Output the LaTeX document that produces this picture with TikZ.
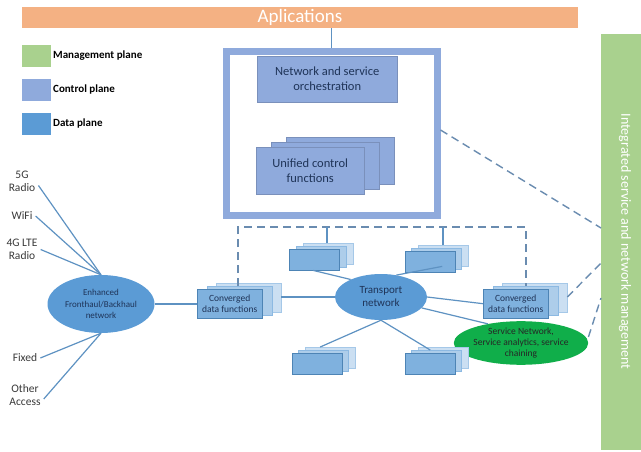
\documentclass[tikz,border=0pt]{standalone}
\usepackage{fontspec}
\setmainfont{Carlito}
\usetikzlibrary{shapes.geometric}
\definecolor{appc}{HTML}{F4B183}
\definecolor{mgmt}{HTML}{A9D18E}
\definecolor{ctrl}{HTML}{8FAADC}
\definecolor{datac}{HTML}{5B9BD5}
\definecolor{linec}{HTML}{5E92C2}
\definecolor{dashc}{HTML}{6A8CB0}
\definecolor{navy}{HTML}{1F3458}
\definecolor{svc}{HTML}{10AE4A}
\definecolor{labc}{HTML}{3A3A3A}
\tikzset{
  conn/.style={draw=linec, line width=1.2pt},
  dsh/.style={draw=dashc, line width=1.4pt, dash pattern=on 8pt off 5pt},
  ctrlbox/.style={draw=ctrl!85!black, line width=0.4pt, fill=ctrl, inner sep=0, text=navy, align=center, anchor=north west},
  dfront/.style={draw=datac!85!black, line width=0.4pt, fill=datac!78, inner sep=0, text=navy, align=center, anchor=north west},
  dmid/.style={draw=datac!70, line width=0.4pt, fill=datac!50, inner sep=0, anchor=north west},
  dback/.style={draw=datac!55, line width=0.4pt, fill=datac!32, inner sep=0, anchor=north west},
  legsq/.style={minimum width=29, minimum height=22, inner sep=0, anchor=north west},
  legtxt/.style={font=\bfseries\fontsize{11}{12}\selectfont, anchor=west, inner sep=0},
  acclbl/.style={font=\fontsize{11.5}{13.5}\selectfont, align=center, text=labc, inner sep=1pt},
}
\begin{document}
\begin{tikzpicture}[x=1pt,y=-1pt]
\useasboundingbox (0,0) rectangle (641,452);
\fill[white] (0,0) rectangle (641,452);

% applications bar
\node[fill=appc, minimum width=556, minimum height=21, inner sep=0, text=white,
  font=\fontsize{19}{20}\selectfont] (app) at (300,17.5) {Aplications};

% management bar
\node[fill=mgmt, minimum width=40, minimum height=416, inner sep=0, anchor=north west] (mg) at (601,34) {};
\node[rotate=-90, text=white, font=\fontsize{14}{15}\selectfont, inner sep=0] (mgt) at (625,241.5)
  {Integrated service and network management};

% legend
\node[legsq, fill=mgmt] (l1) at (22,45) {};
\node[legsq, fill=ctrl] (l2) at (22,79) {};
\node[legsq, fill=datac] (l3) at (22,113) {};
\node[legtxt] (t1) at (53,56) {Management plane};
\node[legtxt] (t2) at (53,90) {Control plane};
\node[legtxt] (t3) at (53,124) {Data plane};

% control plane box
\node[draw=ctrl, line width=7pt, fill=white, minimum width=211, minimum height=163, inner sep=0, anchor=north west] (cb) at (222.5,48.5) {};
\draw[conn] (cb.north) -- (cb.north |- app.south);
\node[ctrlbox, minimum width=140, minimum height=46, font=\fontsize{12.5}{15}\selectfont] (orch) at (257,56) {Network and service\\orchestration};
\node[ctrlbox, minimum width=108, minimum height=47] (u3) at (286,137) {};
\node[ctrlbox, minimum width=108, minimum height=47] (u2) at (271,142) {};
\node[ctrlbox, minimum width=108, minimum height=47, font=\fontsize{12.5}{15}\selectfont] (u1) at (256,147) {Unified control\\functions};

% access labels
\node[acclbl] (r5g) at (22,181.5) {5G\\Radio};
\node[acclbl] (wifi) at (22,216) {WiFi};
\node[acclbl] (r4g) at (22,249.5) {4G LTE\\Radio};
\node[acclbl] (fix) at (25,358) {Fixed};
\node[acclbl] (oth) at (25,395) {Other\\Access};

% enhanced fronthaul/backhaul
\node[ellipse, fill=datac, minimum width=107, minimum height=58, inner sep=0, text=navy, align=center,
  font=\fontsize{9}{11.5}\selectfont] (ef) at (101,304) {Enhanced\\Fronthaul/Backhaul\\network};

\draw[conn] ([xshift=2pt,yshift=-4pt]r5g.east) -- (ef.north);
\draw[conn] ([xshift=2pt]wifi.east) -- (ef.north);
\draw[conn] ([xshift=2pt]r4g.east) -- (ef.north);
\draw[conn] ([xshift=2pt]fix.east) -- (ef.south);
\draw[conn] ([xshift=2pt,yshift=-4pt]oth.east) -- (ef.south);

% left converged data functions
\node[dback, minimum width=65, minimum height=29] (lc3) at (216,283) {};
\node[dmid, minimum width=65, minimum height=29] (lc2) at (207,286) {};
\node[dfront, minimum width=65, minimum height=29, font=\fontsize{9.5}{11.5}\selectfont] (lc) at (197,289) {Converged\\data functions};

% right converged data functions
\node[dback, minimum width=65, minimum height=29] (rc3) at (502,283) {};
\node[dmid, minimum width=65, minimum height=29] (rc2) at (493,286) {};
\node[dfront, minimum width=65, minimum height=29, font=\fontsize{9.5}{11.5}\selectfont] (rc) at (483,289) {Converged\\data functions};

% transport network
\node[ellipse, fill=datac, minimum width=92, minimum height=46, inner sep=0, text=navy, align=center,
  font=\fontsize{11}{13}\selectfont] (tn) at (381,297) {Transport\\network};

% service network
\node[ellipse, fill=svc, minimum width=127, minimum height=40, inner sep=0, text=black!85, align=center,
  font=\fontsize{9.5}{11.3}\selectfont] (sv) at (521,343) {Service Network,\\Service analytics, service\\chaining};

% small stacks
\node[dback, minimum width=50, minimum height=21] (s1c) at (303,243) {};
\node[dmid, minimum width=50, minimum height=21] (s1b) at (296,246) {};
\node[dfront, minimum width=50, minimum height=21] (s1) at (289,249) {};
\node[dback, minimum width=50, minimum height=21] (s2c) at (418,245) {};
\node[dmid, minimum width=50, minimum height=21] (s2b) at (411,248) {};
\node[dfront, minimum width=50, minimum height=21] (s2) at (405,251) {};
\node[dback, minimum width=50, minimum height=21] (s3c) at (305,347) {};
\node[dmid, minimum width=50, minimum height=21] (s3b) at (298,350) {};
\node[dfront, minimum width=50, minimum height=21] (s3) at (292,353) {};
\node[dback, minimum width=50, minimum height=21] (s4c) at (418,347) {};
\node[dmid, minimum width=50, minimum height=21] (s4b) at (411,350) {};
\node[dfront, minimum width=50, minimum height=21] (s4) at (405,353) {};

% connectors
\draw[conn] (ef.east) -- (ef.east -| lc.west);
\draw[conn] (lc3.east |- tn.west) -- (tn.west);
\draw[conn] (tn.east) -- (rc.west);
\draw[conn] (tn.-15) -- (sv.150);
\draw[conn] (tn.150) -- ([xshift=-1pt]s1.south);
\draw[conn] (tn.55) -- ([xshift=-1pt]s2c.south);
\draw[conn] (tn.south) -- ([xshift=-10pt]s3c.north);
\draw[conn] (tn.south) -- ([xshift=-6pt]s4b.north);

% dashed bracket over data plane
\coordinate (dl) at (238,227);
\coordinate (dr) at (526,227);
\draw[dsh] (dl |- lc2.north) -- (dl) -- (dr) -- (dr |- rc2.north);
\draw[conn] (s1c.north -| 327,0) -- (327,227);
\draw[conn] (s2c.north -| 443,0) -- (443,227);

% dashed links to management
\draw[dsh] (cb.east |- 0,130) -- (mg.west |- 0,228);
\draw[dsh] (rc3.east |- 0,297) -- (mg.west |- 0,263);
\draw[dsh] (sv.east) ++(0,-6) -- (mg.west |- 0,298);
\end{tikzpicture}
\end{document}
